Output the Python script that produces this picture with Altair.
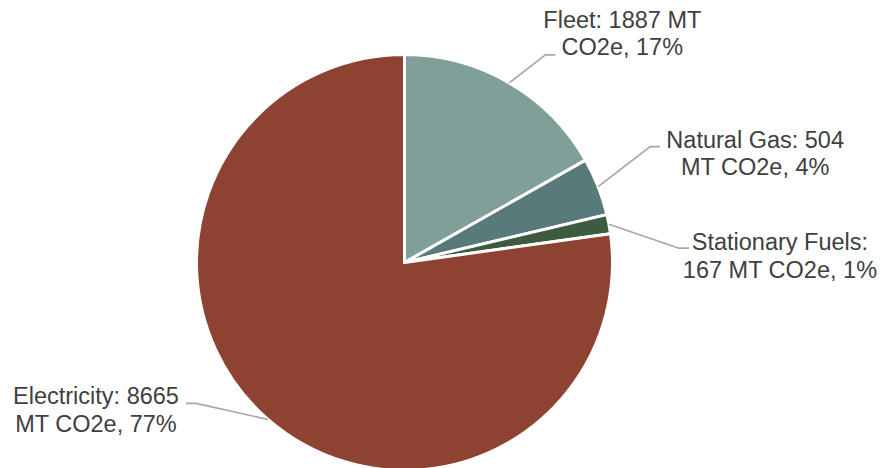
import altair as alt
import numpy as np
import pandas as pd

# ---- data ----
categories = ["Fleet", "Natural Gas", "Stationary Fuels", "Electricity"]
values = [1887, 504, 167, 8665]
label_texts = [
    "Fleet: 1887 MT\nCO2e, 17%",
    "Natural Gas: 504\nMT CO2e, 4%",
    "Stationary Fuels:\n167 MT CO2e, 1%",
    "Electricity: 8665\nMT CO2e, 77%",
]

# ---- style / layout ----
colors = ["#7F9F98", "#587A7A", "#3F5B3F", "#8E4232"]
W, H = 870, 460
CX, CY, R = 404.5, 262.5, 208          # pie centre (page px) and radius
elbow_off = [(36, -28), (52, -40), (70, 24), (-72, -16)]
tail_len = [10, 10, 10, -10]
label_off = [(67, -27), (95, 1), (91, 2), (-90, 1)]
FONT = "Liberation Sans"

df = pd.DataFrame({"cat": categories, "value": values, "idx": range(len(categories))})

# geometry of leader lines derived from slice mid-angles
vals = np.array(values, dtype=float)
cum = np.cumsum(vals) - vals / 2
mid = cum / vals.sum() * 2 * np.pi
ex = CX + R * np.sin(mid)
ey = CY - R * np.cos(mid)

line_rows, lab_rows = [], []
for i, c in enumerate(categories):
    bx, by = ex[i] + elbow_off[i][0], ey[i] + elbow_off[i][1]
    tx, ty = bx + tail_len[i], by
    for k, (px, py) in enumerate([(ex[i], ey[i]), (bx, by), (tx, ty)]):
        line_rows.append({"cat": c, "k": k, "x": px, "y": py})
    lab_rows.append({"cat": c, "x": tx + label_off[i][0], "y": ty + label_off[i][1],
                     "text": label_texts[i]})
lines_df = pd.DataFrame(line_rows)
labels_df = pd.DataFrame(lab_rows)

xs = alt.Scale(domain=[8, 8 + W], nice=False, zero=False)
ys = alt.Scale(domain=[8 + H, 8], nice=False, zero=False)

pie = alt.Chart(df).mark_arc(outerRadius=R, stroke="white", strokeWidth=3).encode(
    theta=alt.Theta("value:Q", stack=True),
    color=alt.Color("cat:N", scale=alt.Scale(domain=categories, range=colors), legend=None),
    order=alt.Order("idx:Q"),
    x=alt.XDatum(CX, type="quantitative", scale=xs, axis=None),
    y=alt.YDatum(CY, type="quantitative", scale=ys, axis=None),
)

leaders = alt.Chart(lines_df).mark_line(color="#A6A6A6", strokeWidth=1.6).encode(
    x=alt.X("x:Q", scale=xs, axis=None),
    y=alt.Y("y:Q", scale=ys, axis=None),
    detail="cat:N",
    order="k:Q",
)

labels = alt.Chart(labels_df).mark_text(
    align="center", baseline="alphabetic", lineBreak="\n", font=FONT,
    fontSize=23.5, lineHeight=27.5, color="#404040",
).encode(
    x=alt.X("x:Q", scale=xs, axis=None),
    y=alt.Y("y:Q", scale=ys, axis=None),
    text="text:N",
)

chart = alt.layer(pie, leaders, labels).properties(
    width=W, height=H, autosize=alt.AutoSizeParams(type="none"), padding=0
).configure_view(stroke=None)

chart.save("out.html", embed_options={"renderer": "svg", "actions": False})
